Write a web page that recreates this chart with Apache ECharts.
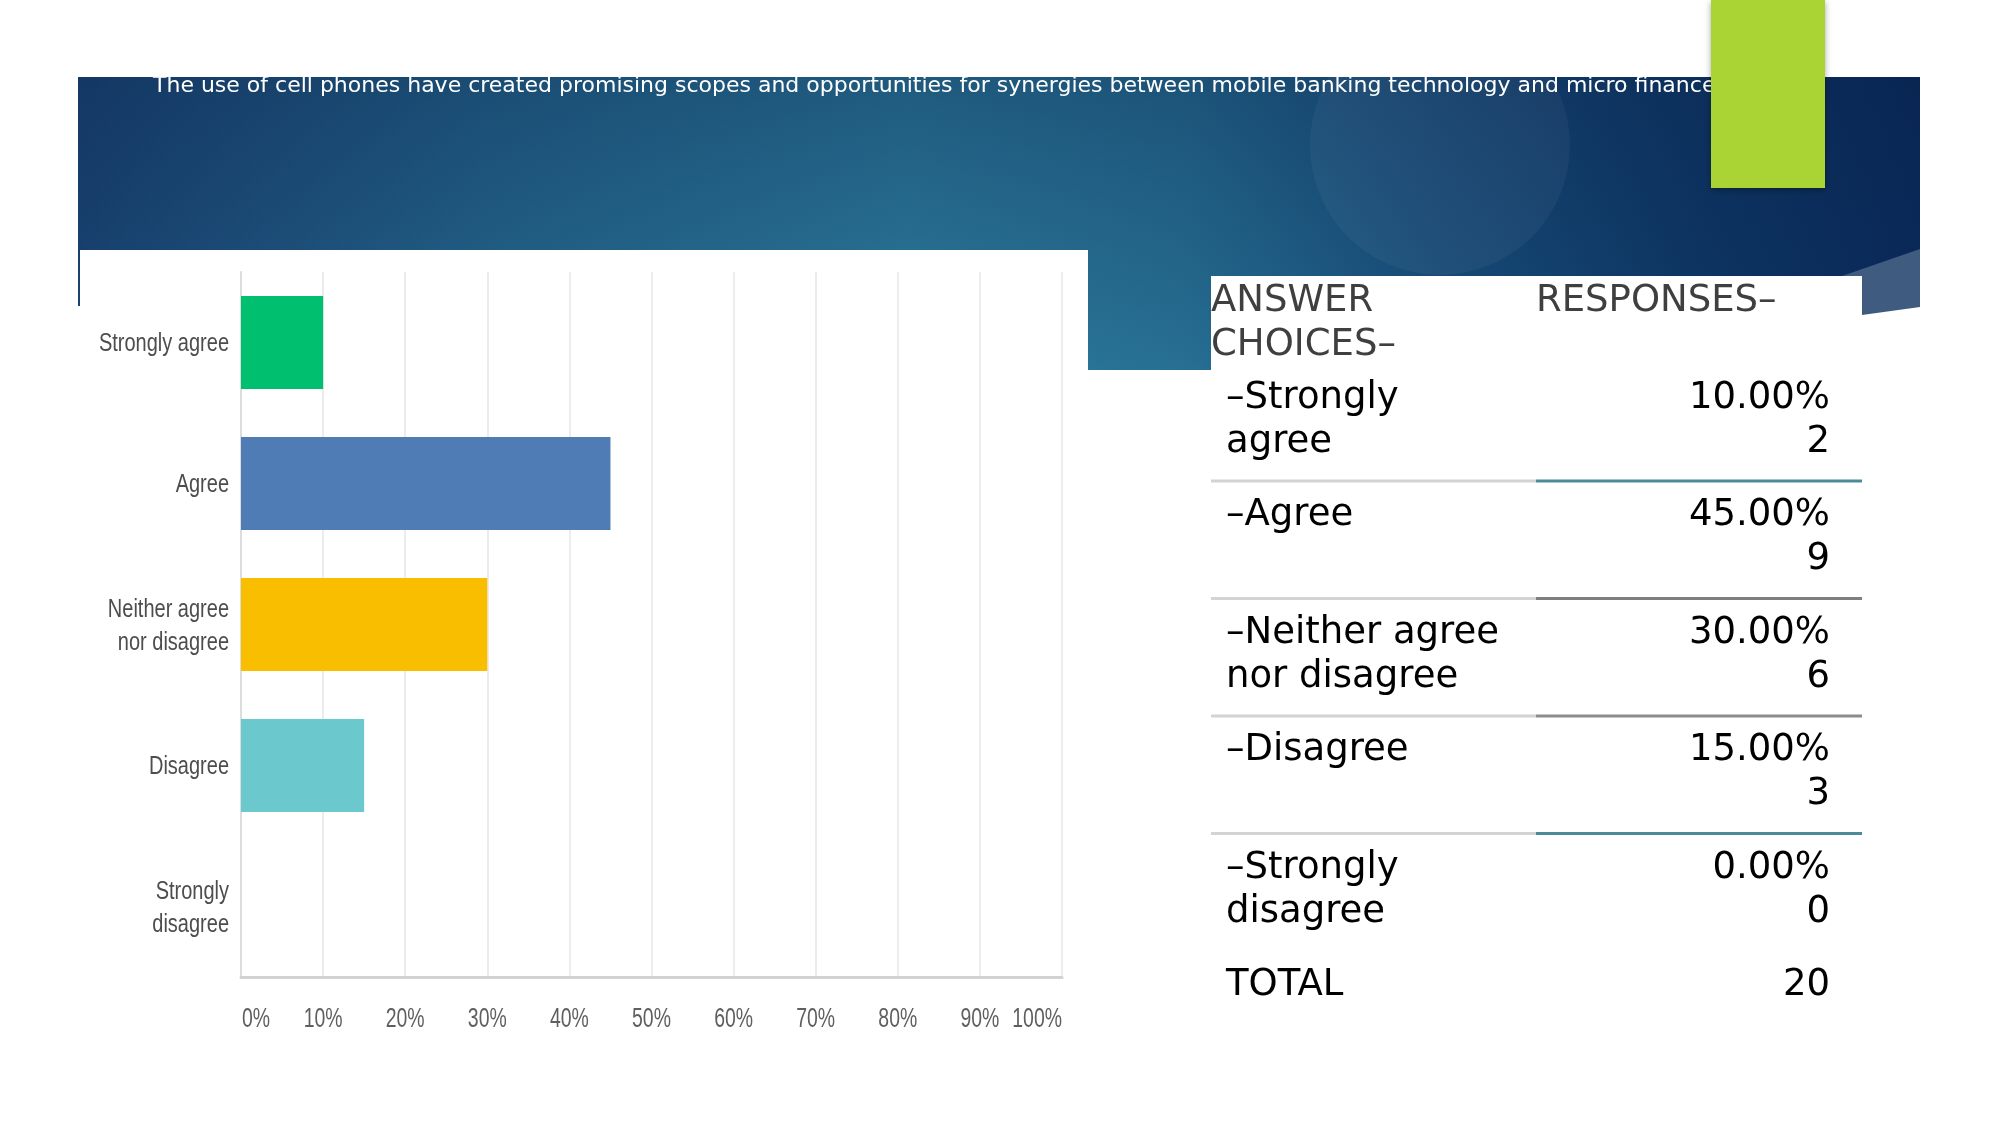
<!DOCTYPE html>
<html><head><meta charset="utf-8">
<script src="https://cdn.jsdelivr.net/npm/echarts@6/dist/echarts.min.js"></script>
<style>html,body{margin:0;padding:0;background:#fff}#c{width:2001px;height:1125px}</style>
</head><body><div id="c"></div>
<script>
// ---- data ----
const titleText = 'The use of cell phones have created promising scopes and opportunities for synergies between mobile banking technology and micro finance';
const categories = ['Strongly agree', 'Agree', 'Neither agree\nnor disagree', 'Disagree', 'Strongly\ndisagree'];
const percents = [10, 45, 30, 15, 0];
const counts = [2, 9, 6, 3, 0];
const xTicks = [0, 10, 20, 30, 40, 50, 60, 70, 80, 90, 100];
const tableChoices = ['–Strongly\nagree', '–Agree', '–Neither agree\nnor disagree', '–Disagree', '–Strongly\ndisagree'];
const headerChoices = 'ANSWER\nCHOICES–';
const headerResponses = 'RESPONSES–';
const totalLabel = 'TOTAL';
const totalCount = 20;

// ---- styles ----
const barColors = ['#00bf6f', '#507cb6', '#f9be00', '#6bc8cd', '#cccccc'];
const sepColors = ['#4d8a99', '#7f7f7f', '#8c8c8c', '#4d8a99'];
const tableFont = '"DejaVu Sans", sans-serif';
const axisFont = '"Liberation Sans", Arial, sans-serif';

const chart = echarts.init(document.getElementById('c'));

const graphics = [];
// banner
graphics.push({type:'rect', z:-100, shape:{x:78, y:77, width:1842, height:293},
  style:{fill:{type:'linear', x:0, y:0, x2:1, y2:0, colorStops:[
    {offset:0, color:'#1a4574'}, {offset:0.22, color:'#24658c'}, {offset:0.45, color:'#2c7b9c'},
    {offset:0.6, color:'#276f93'}, {offset:0.74, color:'#184f7c'}, {offset:0.88, color:'#0e3765'}, {offset:1, color:'#0a2a5a'}]}}});
graphics.push({type:'rect', z:-99, shape:{x:78, y:77, width:1842, height:293},
  style:{fill:{type:'linear', x:0, y:0, x2:0, y2:1, colorStops:[
    {offset:0, color:'rgba(8,30,70,0.35)'}, {offset:1, color:'rgba(8,30,70,0)'}]}}});
graphics.push({type:'circle', z:-98, shape:{cx:1440, cy:145, r:130}, style:{fill:'rgba(255,255,255,0.045)'}});
// cut banner lower right and left
graphics.push({type:'rect', z:-97, shape:{x:1862, y:276, width:139, height:110}, style:{fill:'#fff'}});
graphics.push({type:'polygon', z:-96, shape:{points:[[1842,276],[1920,249],[1920,307],[1862,315]]}, style:{fill:'#3f5b80'}});
graphics.push({type:'rect', z:-97, shape:{x:60, y:306, width:22, height:80}, style:{fill:'#fff'}});
// white boxes
graphics.push({type:'rect', z:-90, shape:{x:80, y:250, width:1008, height:875}, style:{fill:'#fff'}});
graphics.push({type:'rect', z:-90, shape:{x:1211, y:276, width:651, height:849}, style:{fill:'#fff'}});
// title
graphics.push({type:'text', z:50, x:153, y:86, style:{text:titleText, fill:'#ffffff', font:'22px "DejaVu Sans", sans-serif', verticalAlign:'middle', align:'left'}});
// green block
graphics.push({type:'rect', z:60, shape:{x:1711, y:0, width:114, height:188},
  style:{fill:'#aad334', shadowBlur:6, shadowColor:'rgba(0,0,0,0.35)', shadowOffsetY:2}});
// table header
graphics.push({type:'text', z:50, x:1211, y:279, style:{text:headerChoices, fill:'#3f3f3f', font:'37px ' + tableFont, lineHeight:44, verticalAlign:'top', align:'left'}});
graphics.push({type:'text', z:50, x:1536, y:279, style:{text:headerResponses, fill:'#3f3f3f', font:'37px ' + tableFont, lineHeight:44, verticalAlign:'top', align:'left'}});
// table rows
const rowTop0 = 376, rowStep = 117.5;
tableChoices.forEach((lab, i) => {
  const top = rowTop0 + i * rowStep;
  graphics.push({type:'text', z:50, x:1226, y:top, style:{text:lab, fill:'#000', font:'37px ' + tableFont, lineHeight:44, verticalAlign:'top', align:'left'}});
  graphics.push({type:'text', z:50, x:1830, y:top, style:{text:percents[i].toFixed(2) + '%\n' + counts[i], fill:'#000', font:'37px ' + tableFont, lineHeight:44, verticalAlign:'top', align:'right'}});
  if (i < tableChoices.length - 1) {
    const ly = 481 + i * rowStep;
    graphics.push({type:'line', z:50, shape:{x1:1211, y1:ly, x2:1536, y2:ly}, style:{stroke:'#d3d3d3', lineWidth:3}});
    graphics.push({type:'line', z:50, shape:{x1:1536, y1:ly, x2:1862, y2:ly}, style:{stroke:sepColors[i], lineWidth:3}});
  }
});
graphics.push({type:'text', z:50, x:1226, y:967, style:{text:totalLabel, fill:'#000', font:'37px ' + tableFont, verticalAlign:'top', align:'left'}});
graphics.push({type:'text', z:50, x:1830, y:967, style:{text:String(totalCount), fill:'#000', font:'37px ' + tableFont, verticalAlign:'top', align:'right'}});

chart.setOption({
  animation: false,
  backgroundColor: '#ffffff',
  grid: {left: 241, right: 939, top: 272, bottom: 148, containLabel: false},
  xAxis: {
    type: 'value', min: 0, max: 100, interval: 10,
    axisLine: {show: true, lineStyle: {color: '#d2d2d2', width: 3}},
    axisTick: {show: false},
    splitLine: {show: true, lineStyle: {color: '#ececec', width: 2}},
    axisLabel: {show: false}
  },
  yAxis: {
    type: 'category', inverse: true, data: categories,
    axisLine: {show: true, lineStyle: {color: '#dddddd', width: 2}},
    axisTick: {show: false},
    axisLabel: {show: false}
  },
  series: [{
    type: 'bar', barWidth: 93,
    data: percents.map((v, i) => ({value: v, itemStyle: {color: barColors[i]}})),
    label: {show: false}
  }],
  graphic: {elements: graphics}
});

// axis labels drawn (horizontally condensed) at positions from the library's scales
const labelEls = [];
categories.forEach((c, i) => {
  const p = chart.convertToPixel({gridIndex: 0}, [0, i]);
  labelEls.push({type:'text', z:50, x:p[0] - 12, y:p[1] + 2, scaleX:0.8,
    style:{text:c, fill:'#4d4d4d', font:'25px ' + axisFont, lineHeight:33, align:'right', verticalAlign:'middle'}});
});
xTicks.forEach((v, i) => {
  const p = chart.convertToPixel({gridIndex: 0}, [v, categories.length - 1]);
  const axisY = chart.convertToPixel({gridIndex: 0}, [0, categories.length - 1])[1];
  const align = i === 0 ? 'left' : (i === xTicks.length - 1 ? 'right' : 'center');
  labelEls.push({type:'text', z:50, x:p[0] + (i === 0 ? 1 : 0), y:1020, scaleX:0.72,
    style:{text:v + '%', fill:'#5f5f5f', font:'27px ' + axisFont, align:align, verticalAlign:'middle'}});
});
chart.setOption({graphic: {elements: graphics.concat(labelEls)}}, {replaceMerge: ['graphic']});
</script></body></html>
